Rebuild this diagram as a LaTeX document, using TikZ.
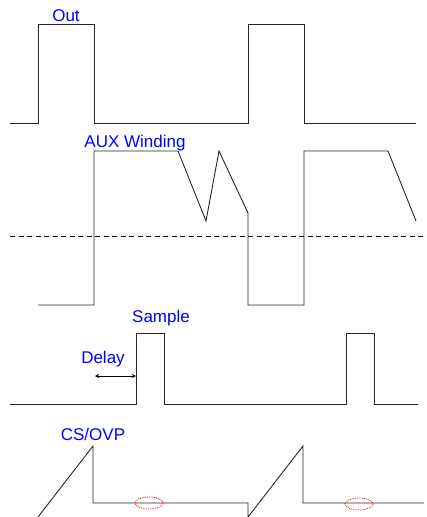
\documentclass[tikz,border=0pt]{standalone}
\usepackage{fontspec}
\setmainfont{Liberation Sans}
\usetikzlibrary{arrows.meta, positioning, calc}
\colorlet{WaveLine}{black!85}
\colorlet{LabelBlue}{blue}
\colorlet{MarkRed}{red}

\begin{document}
\begin{tikzpicture}[
    x=1pt, y=-1pt,
    wave/.style={draw=WaveLine, line width=0.9pt, line join=miter},
    ref/.style={draw=black, line width=0.8pt, dash pattern=on 5pt off 3.5pt},
    lbl/.style={font=\fontsize{17}{17}\selectfont, text=LabelBlue, inner sep=0pt},
    arr/.style={{Stealth[length=4pt, width=4pt]}-{Stealth[length=4pt, width=4pt]}, line width=0.8pt, black},
    spot/.style={draw=MarkRed, densely dotted, line width=0.8pt}
]
\useasboundingbox (0,0) rectangle (427,517);

% ===================================================================
% OUT
% ===================================================================
\draw[wave] (10,123) -- (38,123) -- (38,24) -- (94,24) -- (94,123)
    -- (248,123) -- (248,24) -- (304,24) -- (304,123) -- (416,123);
\node[lbl] (out) at (66,16) {Out};

% ===================================================================
% AUX WINDING
% ===================================================================
\draw[ref] (10,236) -- (427,236);
\draw[wave] (38,305) -- (94,305) -- (94,151) -- (178,151) -- (206,221)
    -- (219,151) -- (248,213) -- (248,305) -- (304,305) -- (304,151)
    -- (388,151) -- (416,221);
\node[lbl] (aux) at (135,143) {AUX Winding};

% ===================================================================
% SAMPLE
% ===================================================================
\draw[wave] (10,404) -- (136,404) -- (136,333) -- (164,333) -- (164,404)
    -- (346,404) -- (346,333) -- (374,333) -- (374,404) -- (418,404);
\node[lbl] (sample) at (161,318) {Sample};
\node[lbl] (delay) at (103,359) {Delay};
\coordinate (dstart) at (95,376);
\coordinate (dend) at (136,376);
\draw[arr] (dstart) -- (dend);

% ===================================================================
% CS/OVP
% ===================================================================
\draw[wave] (38,517) -- (93,446) -- (93,503) -- (248,503) -- (248,517)
    -- (303,446) -- (303,503) -- (424,503);
\node[lbl] (csovp) at (93,434) {CS/OVP};
\draw[spot] (149,503) ellipse (14 and 6);
\draw[spot] (359,504) ellipse (14 and 6);

\end{tikzpicture}
\end{document}
